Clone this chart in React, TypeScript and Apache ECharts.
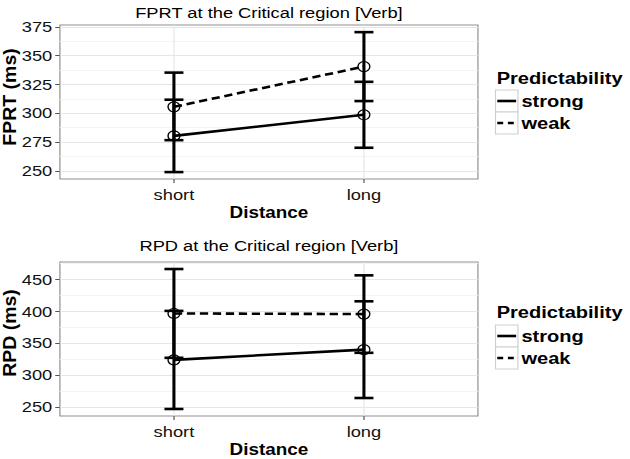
import React, { useEffect, useRef } from 'react';
import * as echarts from 'echarts';

// ---------- data ----------
const distances = ['short', 'long'];
const distancePos = [1, 2];
const legendTitle = 'Predictability';
const groups = ['strong', 'weak'];

const fprtTitle = 'FPRT at the Critical region [Verb]';
const fprtYLabel = 'FPRT (ms)';
const fprtStrongMean = [280.4, 298.7];
const fprtStrongLow = [249.0, 270.1];
const fprtStrongHigh = [311.8, 327.3];
const fprtWeakMean = [305.6, 340.5];
const fprtWeakLow = [276.7, 310.6];
const fprtWeakHigh = [335.3, 370.4];
const fprtTicks = [250, 275, 300, 325, 350, 375];
const fprtMinor = [262.5, 287.5, 312.5, 337.5, 362.5];
const fprtRange = [243.0, 376.6];

const rpdTitle = 'RPD at the Critical region [Verb]';
const rpdYLabel = 'RPD (ms)';
const rpdStrongMean = [324.2, 340.3];
const rpdStrongLow = [247.3, 264.5];
const rpdStrongHigh = [401.0, 416.0];
const rpdWeakMean = [397.0, 396.0];
const rpdWeakLow = [327.5, 335.3];
const rpdWeakHigh = [466.6, 456.7];
const rpdTicks = [250, 300, 350, 400, 450];
const rpdMinor = [275, 325, 375, 425, 475];
const rpdRange = [236.3, 477.6];

const xTitle = 'Distance';

// ---------- layout (chart space, stretched horizontally to 630 afterwards) ----------
const OUT_W = 630;
const W = 534;
const H = 459;
const FONT = '"Liberation Sans", Arial, Helvetica, sans-serif';

type Panel = {
  title: string;
  yLabel: string;
  sMean: number[]; sLow: number[]; sHigh: number[];
  wMean: number[]; wLow: number[]; wHigh: number[];
  ticks: number[]; minor: number[]; range: number[];
  top: number;
  titleY: number; yLabelY: number; xTitleY: number;
  legTitleY: number; legBoxTop: number;
};

const panels: Panel[] = [
  {
    title: fprtTitle, yLabel: fprtYLabel,
    sMean: fprtStrongMean, sLow: fprtStrongLow, sHigh: fprtStrongHigh,
    wMean: fprtWeakMean, wLow: fprtWeakLow, wHigh: fprtWeakHigh,
    ticks: fprtTicks, minor: fprtMinor, range: fprtRange,
    top: 25, titleY: 13, yLabelY: 97, xTitleY: 213, legTitleY: 78, legBoxTop: 90,
  },
  {
    title: rpdTitle, yLabel: rpdYLabel,
    sMean: rpdStrongMean, sLow: rpdStrongLow, sHigh: rpdStrongHigh,
    wMean: rpdWeakMean, wLow: rpdWeakLow, wHigh: rpdWeakHigh,
    ticks: rpdTicks, minor: rpdMinor, range: rpdRange,
    top: 262, titleY: 246, yLabelY: 333, xTitleY: 450, legTitleY: 312, legBoxTop: 325,
  },
];

const GRID_LEFT = 50.8;
const GRID_RIGHT_X = 405.1;
const GRID_H = 154;

const errRender = (_params: any, api: any) => {
  const x = api.value(0);
  const lo = api.coord([x, api.value(1)]);
  const hi = api.coord([x, api.value(2)]);
  const half = api.size([0.1, 0])[0] / 2;
  const style = { stroke: '#000', lineWidth: 2.6 };
  return {
    type: 'group',
    children: [
      { type: 'line', shape: { x1: lo[0], y1: lo[1], x2: hi[0], y2: hi[1] }, style },
      { type: 'line', shape: { x1: lo[0] - half, y1: lo[1], x2: lo[0] + half, y2: lo[1] }, style },
      { type: 'line', shape: { x1: hi[0] - half, y1: hi[1], x2: hi[0] + half, y2: hi[1] }, style },
    ],
  };
};

function buildOption() {
  const grid: any[] = [];
  const xAxis: any[] = [];
  const yAxis: any[] = [];
  const series: any[] = [];
  const graphic: any[] = [];
  const cx = (GRID_LEFT + GRID_RIGHT_X) / 2;

  panels.forEach((p, g) => {
    grid.push({
      left: GRID_LEFT, top: p.top, width: GRID_RIGHT_X - GRID_LEFT, height: GRID_H,
      show: true, borderColor: '#8f8f8f', borderWidth: 1, backgroundColor: '#fff',
    });
    xAxis.push({
      type: 'value', gridIndex: g, min: 0.4, max: 2.6,
      axisLine: { show: false }, splitLine: { show: false },
      axisTick: { show: true, customValues: distancePos, length: 4, lineStyle: { color: '#555', width: 1 } },
      axisLabel: {
        customValues: distancePos, margin: 8, fontSize: 15.5, color: '#111', fontFamily: FONT,
        formatter: (v: number) => distances[Math.round(v) - 1] ?? '',
      },
    });
    yAxis.push({
      type: 'value', gridIndex: g, min: p.range[0], max: p.range[1],
      axisLine: { show: false }, splitLine: { show: false },
      axisTick: { show: true, customValues: p.ticks, length: 4, lineStyle: { color: '#555', width: 1 } },
      axisLabel: {
        customValues: p.ticks, margin: 6.5, fontSize: 15.5, color: '#111', fontFamily: FONT,
        formatter: (v: number) => String(Math.round(v)),
      },
    });

    // gridlines (drawn beneath the data)
    series.push({
      type: 'line', xAxisIndex: g, yAxisIndex: g, z: 1, silent: true,
      data: [[distancePos[0], p.ticks[1]]], showSymbol: false, symbol: 'none',
      lineStyle: { opacity: 0 },
      markLine: {
        z: 1,
        silent: true, symbol: ['none', 'none'], label: { show: false }, animation: false,
        emphasis: { disabled: true },
        data: [
          ...p.minor.map((v) => ({ yAxis: v, lineStyle: { color: '#f4f4f4', width: 1, type: 'solid' } })),
          ...p.ticks.map((v) => ({ yAxis: v, lineStyle: { color: '#e6e6e6', width: 1, type: 'solid' } })),
          ...distancePos.map((v) => ({ xAxis: v, lineStyle: { color: '#e6e6e6', width: 1, type: 'solid' } })),
        ],
      },
    });

    const mk = (name: string, mean: number[], dashed: boolean) => ({
      type: 'line', name, xAxisIndex: g, yAxisIndex: g, z: 6,
      data: distancePos.map((x, i) => [x, mean[i]]),
      symbol: 'circle', symbolSize: 10, showSymbol: true,
      lineStyle: { color: '#000', width: 2.6, type: dashed ? [7, 4] : 'solid' },
      itemStyle: { color: 'rgba(0,0,0,0)', borderColor: '#000', borderWidth: 1.1 },
      emphasis: { disabled: true },
    });
    series.push(mk(groups[0], p.sMean, false));
    series.push(mk(groups[1], p.wMean, true));

    series.push({
      type: 'custom', xAxisIndex: g, yAxisIndex: g, z: 7,
      renderItem: errRender,
      encode: { x: 0, y: [1, 2] },
      data: [
        ...distancePos.map((x, i) => [x, p.sLow[i], p.sHigh[i]]),
        ...distancePos.map((x, i) => [x, p.wLow[i], p.wHigh[i]]),
      ],
    });

    // titles
    graphic.push({
      type: 'text', x: cx, y: p.titleY,
      style: { text: p.title, fontSize: 15.5, fontFamily: FONT, fill: '#000', align: 'center', verticalAlign: 'middle' },
    });
    graphic.push({
      type: 'text', x: cx, y: p.xTitleY,
      style: { text: xTitle, fontSize: 16, fontWeight: 'bold', fontFamily: FONT, fill: '#000', align: 'center', verticalAlign: 'middle' },
    });
    graphic.push({
      type: 'text', x: 8, y: p.yLabelY, rotation: Math.PI / 2, scaleX: 1.3,
      style: { text: p.yLabel, fontSize: 15, fontWeight: 'bold', fontFamily: FONT, fill: '#000', align: 'center', verticalAlign: 'middle' },
    });

    // legend
    const lx = 420;
    graphic.push({
      type: 'text', x: lx + 1, y: p.legTitleY,
      style: { text: legendTitle, fontSize: 17, fontWeight: 'bold', fontFamily: FONT, fill: '#000', align: 'left', verticalAlign: 'middle' },
    });
    groups.forEach((name, k) => {
      const by = p.legBoxTop + k * 22;
      graphic.push({
        type: 'rect', shape: { x: lx, y: by, width: 19, height: 22 },
        style: { fill: '#fff', stroke: '#cfcfcf', lineWidth: 1 },
      });
      graphic.push({
        type: 'line', shape: { x1: lx + 1.5, y1: by + 11, x2: lx + 17.5, y2: by + 11 },
        style: { stroke: '#000', lineWidth: 2.6, lineDash: k === 1 ? [5, 4] : null },
      });
      graphic.push({
        type: 'text', x: lx + 22, y: by + 11,
        style: { text: name, fontSize: 17, fontWeight: 'bold', fontFamily: FONT, fill: '#000', align: 'left', verticalAlign: 'middle' },
      });
    });
  });

  return {
    animation: false,
    backgroundColor: '#fff',
    grid, xAxis, yAxis, series, graphic,
  };
}

export default function App() {
  const ref = useRef<HTMLDivElement>(null);
  useEffect(() => {
    const el = ref.current;
    if (!el) return;
    const chart = echarts.init(el, null, { renderer: 'svg', width: W, height: H });
    chart.setOption(buildOption() as any);
    // stretch the rendered SVG horizontally (the reference figure is stretched)
    const svg = el.querySelector('svg');
    if (svg) {
      svg.setAttribute('viewBox', `0 0 ${W} ${H}`);
      svg.setAttribute('preserveAspectRatio', 'none');
      svg.setAttribute('width', String(OUT_W));
      svg.style.width = OUT_W + 'px';
      let node: HTMLElement | null = svg.parentElement;
      while (node && node !== el.parentElement) {
        node.style.width = OUT_W + 'px';
        node = node.parentElement;
      }
    }
    return () => chart.dispose();
  }, []);
  return (
    <div
      ref={ref}
      style={{ position: 'absolute', left: 0, top: 0, width: OUT_W, height: H, background: '#fff' }}
    />
  );
}
